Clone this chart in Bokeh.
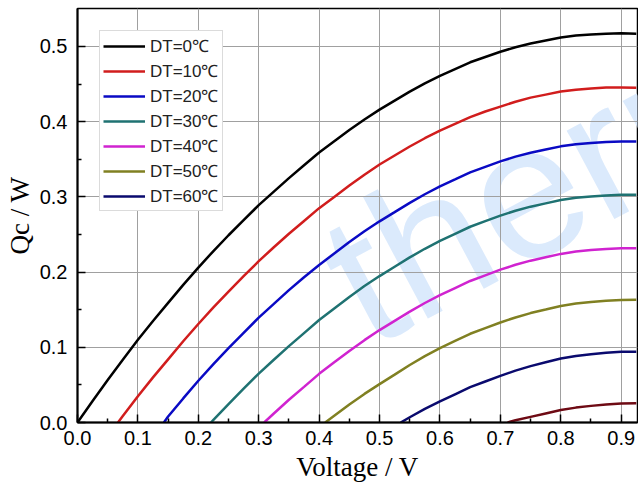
from bokeh.plotting import figure
from bokeh.models import FixedTicker, PrintfTickFormatter, Label, Range1d
from bokeh.embed import file_html
from bokeh.resources import INLINE

# ---- data (voltage V, cooling power Qc W) ----
v_dt0 = [0.0, 0.025, 0.05, 0.075, 0.1, 0.125, 0.15, 0.175, 0.2, 0.225, 0.25, 0.275, 0.3, 0.325,
         0.35, 0.375, 0.4, 0.425, 0.45, 0.475, 0.5, 0.525, 0.55, 0.575, 0.6, 0.625, 0.65, 0.675,
         0.7, 0.725, 0.75, 0.775, 0.8, 0.825, 0.85, 0.875, 0.9, 0.925]
q_dt0 = [0.0, 0.0285, 0.0565, 0.0835, 0.110, 0.135, 0.159, 0.183, 0.206, 0.228, 0.249, 0.269, 0.289, 0.307,
         0.325, 0.342, 0.359, 0.374, 0.389, 0.403, 0.416, 0.428, 0.440, 0.451, 0.461, 0.470, 0.479, 0.486,
         0.493, 0.499, 0.504, 0.508, 0.512, 0.5145, 0.516, 0.517, 0.5175, 0.517]

v_dt10 = [0.067, 0.075, 0.1, 0.125, 0.15, 0.175, 0.2, 0.225, 0.25, 0.275, 0.3, 0.325, 0.35, 0.375,
          0.4, 0.425, 0.45, 0.475, 0.5, 0.525, 0.55, 0.575, 0.6, 0.625, 0.65, 0.675, 0.7, 0.725,
          0.75, 0.775, 0.8, 0.825, 0.85, 0.875, 0.9, 0.925]
q_dt10 = [0.0, 0.0085, 0.035, 0.060, 0.084, 0.108, 0.131, 0.153, 0.174, 0.1945, 0.2145, 0.233, 0.251, 0.268,
          0.285, 0.300, 0.315, 0.3295, 0.343, 0.355, 0.367, 0.378, 0.388, 0.397, 0.406, 0.4135, 0.420, 0.4265,
          0.432, 0.436, 0.440, 0.4425, 0.444, 0.4455, 0.4455, 0.445]

v_dt20 = [0.143, 0.15, 0.175, 0.2, 0.225, 0.25, 0.275, 0.3, 0.325, 0.35, 0.375, 0.4, 0.425, 0.45,
          0.475, 0.5, 0.525, 0.55, 0.575, 0.6, 0.625, 0.65, 0.675, 0.7, 0.725, 0.75, 0.775, 0.8,
          0.825, 0.85, 0.875, 0.9, 0.925]
q_dt20 = [0.0, 0.008, 0.032, 0.0555, 0.0777, 0.099, 0.1192, 0.1395, 0.1577, 0.176, 0.1932, 0.2095, 0.2247, 0.240,
          0.2542, 0.2675, 0.2797, 0.292, 0.3035, 0.314, 0.3232, 0.3325, 0.340, 0.3472, 0.3535, 0.3588, 0.3630, 0.3672,
          0.3700, 0.3718, 0.3730, 0.3738, 0.3735]

v_dt30 = [0.221, 0.225, 0.25, 0.275, 0.3, 0.325, 0.35, 0.375, 0.4, 0.425, 0.45, 0.475, 0.5, 0.525,
          0.55, 0.575, 0.6, 0.625, 0.65, 0.675, 0.7, 0.725, 0.75, 0.775, 0.8, 0.825, 0.85, 0.875,
          0.9, 0.925]
q_dt30 = [0.0, 0.0035, 0.0245, 0.0449, 0.0650, 0.0834, 0.1015, 0.1189, 0.1362, 0.1516, 0.1670, 0.1814, 0.1947, 0.2071,
          0.2195, 0.2310, 0.2414, 0.2509, 0.2603, 0.2677, 0.2751, 0.2816, 0.2870, 0.2914, 0.2958, 0.2988, 0.3006, 0.3020,
          0.3029, 0.3028]

v_dt40 = [0.309, 0.325, 0.35, 0.375, 0.4, 0.425, 0.45, 0.475, 0.5, 0.525, 0.55, 0.575, 0.6, 0.625,
          0.65, 0.675, 0.7, 0.725, 0.75, 0.775, 0.8, 0.825, 0.85, 0.875, 0.9, 0.925]
q_dt40 = [0.0, 0.0120, 0.0302, 0.0474, 0.0647, 0.0800, 0.0952, 0.1095, 0.1229, 0.1352, 0.1475, 0.1589, 0.1694, 0.1788,
          0.1882, 0.1957, 0.2032, 0.2097, 0.2152, 0.2197, 0.2242, 0.2273, 0.2293, 0.2308, 0.2318, 0.2318]

v_dt50 = [0.41, 0.425, 0.45, 0.475, 0.5, 0.525, 0.55, 0.575, 0.6, 0.625, 0.65, 0.675, 0.7, 0.725,
          0.75, 0.775, 0.8, 0.825, 0.85, 0.875, 0.9, 0.925]
q_dt50 = [0.0, 0.009, 0.024, 0.038, 0.051, 0.0637, 0.0765, 0.0882, 0.099, 0.1085, 0.118, 0.1255, 0.133, 0.1397,
          0.1455, 0.1502, 0.155, 0.1581, 0.1602, 0.1619, 0.163, 0.1631]

v_dt60 = [0.535, 0.55, 0.575, 0.6, 0.625, 0.65, 0.675, 0.7, 0.725, 0.75, 0.775, 0.8, 0.825, 0.85,
          0.875, 0.9, 0.925]
q_dt60 = [0.0, 0.007, 0.018, 0.028, 0.0375, 0.047, 0.0545, 0.062, 0.069, 0.075, 0.080, 0.085, 0.0885, 0.0908,
          0.0926, 0.094, 0.0942]

v_dt70 = [0.712, 0.725, 0.75, 0.775, 0.8, 0.825, 0.85, 0.875, 0.9, 0.925]
q_dt70 = [0.0, 0.0030, 0.0075, 0.0120, 0.0165, 0.0198, 0.0221, 0.0239, 0.0252, 0.0255]

x_ticks = [0.0, 0.1, 0.2, 0.3, 0.4, 0.5, 0.6, 0.7, 0.8, 0.9]
x_minor = [0.05, 0.15, 0.25, 0.35, 0.45, 0.55, 0.65, 0.75, 0.85]
y_ticks = [0.0, 0.1, 0.2, 0.3, 0.4, 0.5]
y_minor = [0.05, 0.15, 0.25, 0.35, 0.45]

series = [
    ("DT=0℃", v_dt0, q_dt0, "#000000"),
    ("DT=10℃", v_dt10, q_dt10, "#d11d1d"),
    ("DT=20℃", v_dt20, q_dt20, "#0a0ac4"),
    ("DT=30℃", v_dt30, q_dt30, "#1f7272"),
    ("DT=40℃", v_dt40, q_dt40, "#d023d0"),
    ("DT=50℃", v_dt50, q_dt50, "#808022"),
    ("DT=60℃", v_dt60, q_dt60, "#0a0a6e"),
    (None, v_dt70, q_dt70, "#6e0a14"),
]

p = figure(width=638, height=491, output_backend="svg", toolbar_location=None,
           x_range=Range1d(0, 0.927), y_range=Range1d(0, 0.5505),
           min_border_left=77, min_border_right=1, min_border_top=8, min_border_bottom=69)

p.background_fill_color = "white"
p.border_fill_color = "white"
p.outline_line_color = "black"
p.outline_line_width = 1.5

# watermark
wm = Label(x=0.515, y=0.05, text="therm", angle=0.49, text_font="Liberation Sans",
           text_font_size="190px", text_color="#dbeafc", level="image")
p.add_layout(wm)

for label, xs, ys, col in series:
    if label is None:
        p.line(xs, ys, line_color=col, line_width=2.5)
    else:
        p.line(xs, ys, line_color=col, line_width=2.5, legend_label=label)

for ax, ticks, minor in ((p.xaxis[0], x_ticks, x_minor), (p.yaxis[0], y_ticks, y_minor)):
    ax.ticker = FixedTicker(ticks=ticks, minor_ticks=minor)
    ax.formatter = PrintfTickFormatter(format="%.1f")
    ax.major_tick_in = 8
    ax.major_tick_out = 0
    ax.minor_tick_in = 4
    ax.minor_tick_out = 0
    ax.axis_line_width = 2
    ax.major_tick_line_width = 1.5
    ax.minor_tick_line_width = 1.5
    ax.major_label_text_font = "Liberation Sans"
    ax.major_label_text_font_size = "20px"
    ax.major_label_text_color = "black"
    ax.axis_label_text_font = "Liberation Serif"
    ax.axis_label_text_font_size = "27px"
    ax.axis_label_text_font_style = "normal"
    ax.axis_label_text_color = "black"

p.xaxis.axis_label = "Voltage / V"
p.yaxis.axis_label = "Qc / W"
p.xaxis.major_label_standoff = 8
p.xaxis.axis_label_standoff = 4
p.yaxis.major_label_standoff = 10
p.yaxis.axis_label_standoff = 2

p.xgrid.grid_line_color = "#a0a0a0"
p.ygrid.grid_line_color = "#a0a0a0"
p.xgrid.grid_line_width = 1
p.ygrid.grid_line_width = 1

lg = p.legend[0]
lg.location = "top_left"
lg.margin = 22
lg.padding = 3
lg.spacing = 2
lg.glyph_width = 42
lg.glyph_height = 20
lg.label_height = 20
lg.label_standoff = 5
lg.label_text_font = "Liberation Sans"
lg.label_text_font_size = "17px"
lg.label_text_color = "#222222"
lg.border_line_color = "#b8b8b8"
lg.border_line_width = 1
lg.background_fill_color = "white"
lg.background_fill_alpha = 1.0

open("out.html", "w").write(file_html(p, INLINE))
